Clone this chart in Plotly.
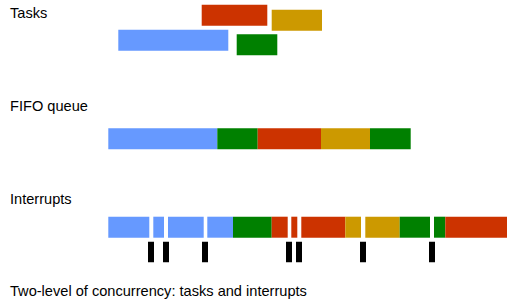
import plotly.graph_objects as go

# ---- data (time axis in px-like units) ----
task_names = ["blue task", "red task", "yellow task", "green task"]
task_start = [118.3, 201.7, 271.7, 236.7]
task_dur = [110.0, 65.6, 50.3, 40.6]
task_lane = [40.3, 15.3, 20.3, 44.8]
task_color = ["#6699ff", "#cc3300", "#cc9900", "#008000"]

fifo_start = [108.3, 217.3, 257.7, 321.0, 370.0]
fifo_dur = [109.0, 40.4, 63.3, 49.0, 40.7]
fifo_color = ["#6699ff", "#008000", "#cc3300", "#cc9900", "#008000"]

int_start = [108.3, 153.3, 168.0, 207.3, 233.0, 271.7, 291.3, 301.3, 345.3, 365.3, 399.7, 434.0, 445.3]
int_end = [149.3, 164.0, 203.7, 233.0, 271.7, 287.7, 297.3, 345.3, 361.0, 399.7, 430.0, 445.3, 508.6]
int_color = ["#6699ff", "#6699ff", "#6699ff", "#6699ff", "#008000", "#cc3300", "#cc3300",
             "#cc3300", "#cc9900", "#cc9900", "#008000", "#008000", "#cc3300"]

irq_time = [151.0, 166.0, 205.0, 289.0, 299.0, 363.0, 432.0]
irq_len = 6.0

labels = ["Tasks", "FIFO queue", "Interrupts", "Two-level of concurrency: tasks and interrupts"]
label_y = [13.0, 105.5, 198.5, 290.5]

ROW_FIFO = 138.8
ROW_INT = 227.2
ROW_IRQ = 252.0
BAR_H = 21.0

fig = go.Figure()

fig.add_trace(go.Bar(orientation="h", base=task_start, x=task_dur, y=task_lane,
                     width=[BAR_H] * len(task_dur), marker=dict(color=task_color, line=dict(width=0)),
                     hoverinfo="skip"))
fig.add_trace(go.Bar(orientation="h", base=fifo_start, x=fifo_dur, y=[ROW_FIFO] * len(fifo_dur),
                     width=[BAR_H] * len(fifo_dur), marker=dict(color=fifo_color, line=dict(width=0)),
                     hoverinfo="skip"))
fig.add_trace(go.Bar(orientation="h", base=int_start,
                     x=[e - s for s, e in zip(int_start, int_end)], y=[ROW_INT] * len(int_start),
                     width=[BAR_H] * len(int_start), marker=dict(color=int_color, line=dict(width=0)),
                     hoverinfo="skip"))
fig.add_trace(go.Bar(orientation="h", base=[t - irq_len / 2 for t in irq_time],
                     x=[irq_len] * len(irq_time), y=[ROW_IRQ] * len(irq_time),
                     width=[20.5] * len(irq_time), marker=dict(color="#000000", line=dict(width=0)),
                     hoverinfo="skip"))

for txt, y in zip(labels, label_y):
    fig.add_annotation(x=8, y=y, xref="x", yref="y", text=txt, showarrow=False,
                       xanchor="left", yanchor="middle",
                       font=dict(family="Liberation Sans, Arial, sans-serif", size=14.6, color="#000000"))

fig.update_layout(
    width=507, height=300,
    margin=dict(l=0, r=0, t=0, b=0),
    paper_bgcolor="white", plot_bgcolor="white",
    showlegend=False, barmode="overlay",
    xaxis=dict(range=[0, 507], visible=False, fixedrange=True),
    yaxis=dict(range=[300, 0], visible=False, fixedrange=True),
)

fig.write_html("out.html", config={"displayModeBar": False})

# remove default page margin so the figure sits at the window's top-left corner
with open("out.html", "r", encoding="utf-8") as f:
    html = f.read()
html = html.replace("<body>", '<body style="margin:0;overflow:hidden">', 1)
with open("out.html", "w", encoding="utf-8") as f:
    f.write(html)
